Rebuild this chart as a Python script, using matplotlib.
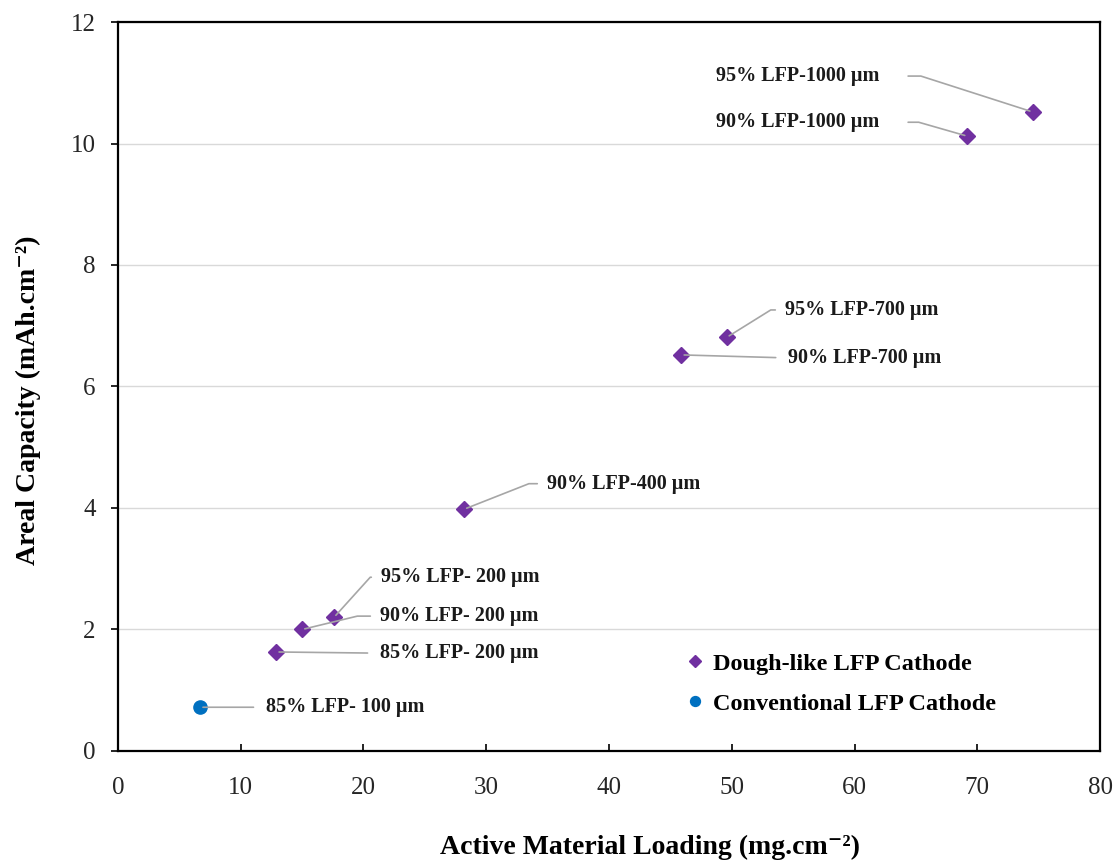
import matplotlib.pyplot as plt

plt.rcParams['font.family'] = ['Liberation Serif', 'DejaVu Serif']

# Dough-like LFP cathodes
dough_x = [12.9, 15.0, 17.6, 28.2, 45.9, 49.6, 69.2, 74.5]
dough_y = [1.63, 2.0, 2.2, 3.98, 6.52, 6.81, 10.12, 10.52]
dough_labels = ['85% LFP- 200 \u00b5m', '90% LFP- 200 \u00b5m', '95% LFP- 200 \u00b5m',
                '90% LFP-400 \u00b5m', '90% LFP-700 \u00b5m', '95% LFP-700 \u00b5m',
                '90% LFP-1000 \u00b5m', '95% LFP-1000 \u00b5m']

# Conventional cathode
conv_x = [6.7]
conv_y = [0.72]
conv_labels = ['85% LFP- 100 \u00b5m']

# label anchor (data coords), horizontal alignment, leader angle at the point
label_pos = [(21.35, 1.61, 'left', None), (21.35, 2.22, 'left', 13.6), (21.43, 2.86, 'left', 47.9),
             (34.95, 4.40, 'left', 21.5), (54.6, 6.47, 'left', None), (54.34, 7.26, 'left', 31.9),
             (61.99, 10.35, 'right', -16.0), (61.99, 11.11, 'right', -17.8)]
conv_pos = [(12.06, 0.72, 'left', None)]

fig = plt.figure(figsize=(11.17, 8.63), dpi=100)
ax = fig.add_axes([0.1056, 0.1298, 0.8792, 0.8447])

ax.yaxis.grid(True, color='#d9d9d9', lw=1)
ax.set_axisbelow(True)

ax.plot(dough_x, dough_y, ls='none', marker='D', ms=8, color='#7030a0',
        label='Dough-like LFP Cathode')
ax.plot(conv_x, conv_y, ls='none', marker='o', ms=9.5, color='#0070c0',
        label='Conventional LFP Cathode')

def leader(txt, x, y, pos):
    tx, ty, ha, ang = pos
    if ang is None:
        cs = 'arc3,rad=0'
        shr = 7
    else:
        cs = 'angle,angleA=0,angleB=%g,rad=0' % ang
        shr = 5 if ha == 'left' else 19
    ax.annotate(txt, xy=(x, y), xytext=(tx, ty), ha=ha, va='center',
                fontsize=14.5, fontweight='bold', color='#1a1a1a',
                arrowprops=dict(arrowstyle='-', color='#a6a6a6', lw=1.2,
                                shrinkA=shr, shrinkB=2, connectionstyle=cs,
                                relpos=(0, 0.5) if ha == 'left' else (1, 0.5)))

for x, y, t, p in zip(dough_x, dough_y, dough_labels, label_pos):
    leader(t, x, y, p)
for x, y, t, p in zip(conv_x, conv_y, conv_labels, conv_pos):
    leader(t, x, y, p)

ax.set_xlim(0, 80)
ax.set_ylim(0, 12)
ax.set_xticks(range(0, 81, 10))
ax.set_yticks(range(0, 13, 2))
ax.tick_params(labelsize=18, width=1.2, color='black', labelcolor='#262626')
ax.tick_params(axis='x', direction='in', length=5, pad=19)
ax.tick_params(axis='y', direction='out', length=5, pad=11)
for s in ax.spines.values():
    s.set_color('black')
    s.set_linewidth(1.6)

ax.set_xlabel('Active Material Loading (mg.cm\u207b\u00b2)', fontsize=20,
              fontweight='bold')
ax.set_ylabel('Areal Capacity (mAh.cm\u207b\u00b2)', fontsize=20,
              fontweight='bold')
ax.xaxis.set_label_coords(0.542, -0.115)
ax.yaxis.set_label_coords(-0.078, 0.481)

leg = ax.legend(loc='upper left', bbox_to_anchor=(0.553, 0.165), frameon=False,
                prop={'weight': 'bold', 'size': 17.5}, handletextpad=0.25,
                labelspacing=0.75, markerscale=0.75, handlelength=1.0)

fig.savefig('out.png', dpi=100)
